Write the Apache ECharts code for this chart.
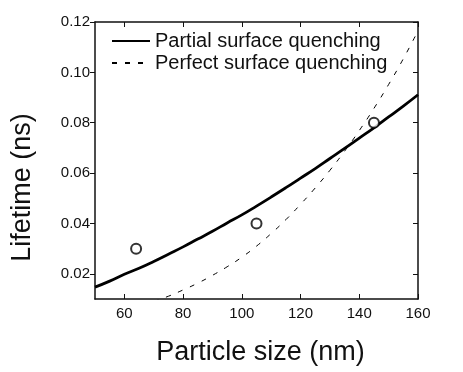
<!DOCTYPE html>
<html>
<head>
<meta charset="utf-8">
<script src="https://cdn.jsdelivr.net/npm/echarts@6/dist/echarts.min.js"></script>
<style>html,body{margin:0;padding:0;background:#fff}#c{width:463px;height:372px}</style>
</head>
<body>
<div id="c"></div>
<script>
// Particle size (nm) grid for the model curves
const sizes = [50,55,60,65,70,75,80,85,90,95,100,105,110,115,120,125,130,135,140,145,150,155,160];
// Partial surface quenching (solid) lifetime, ns
const partial = [0.0147,0.0171,0.0198,0.0222,0.0249,0.0278,0.0307,0.0338,0.0369,0.0402,0.0434,0.0469,0.0505,0.0542,0.0580,0.0618,0.0658,0.0698,0.0739,0.0780,0.0823,0.0866,0.0911];
// Perfect surface quenching (dashed) lifetime, ns
const perfectSizes = [70,75,80,85,90,95,100,105,110,115,120,125,130,135,140,145,150,155,160];
const perfect = [0.0090,0.0111,0.0136,0.0163,0.0194,0.0228,0.0266,0.0310,0.0360,0.0415,0.0476,0.0541,0.0611,0.0687,0.0769,0.0857,0.0952,0.1054,0.1165];
// Measured points
const measSizes = [64,105,145];
const measLife = [0.030,0.040,0.080];
// Tick values
const xTicks = [60,80,100,120,140,160];
const yTicks = [0.02,0.04,0.06,0.08,0.10,0.12];

const font = 'Liberation Sans, Arial, sans-serif';
const axisCol = '#111';
function mkX(show, pos){
  return {
    type:'value', min:50, max:160, position:pos,
    axisLine:{show:true, onZero:false, lineStyle:{color:axisCol,width:1.5}},
    axisTick:{show:true, inside:true, length:5, customValues:xTicks, lineStyle:{color:axisCol,width:1}},
    axisLabel:{show:show, customValues:xTicks, margin:7, fontSize:15, color:'#111', fontFamily:font},
    splitLine:{show:false},
    name: show ? 'Particle size (nm)' : '', nameLocation:'middle', nameGap:40,
    nameTextStyle:{fontSize:27, color:'#111', fontFamily:font, padding:[0,0,0,8]}
  };
}
function mkY(show, pos){
  return {
    type:'value', min:0.01, max:0.12, position:pos,
    axisLine:{show:true, onZero:false, lineStyle:{color:axisCol,width:1.5}},
    axisTick:{show:true, inside:!show, length:5, customValues:yTicks, lineStyle:{color:axisCol,width:1}},
    axisLabel:{show:show, customValues:yTicks, margin:5, fontSize:15, color:'#111', fontFamily:font,
      formatter:v=>v.toFixed(2)},
    splitLine:{show:false},
    name: show ? 'Lifetime (ns)' : '', nameLocation:'middle', nameGap:59,
    nameTextStyle:{fontSize:27, color:'#111', fontFamily:font, padding:[0,54,0,0]}
  };
}
const chart = echarts.init(document.getElementById('c'), null, {renderer:'canvas'});
chart.setOption({
  animation:false,
  backgroundColor:'#fff',
  grid:{left:95, right:45, top:22, bottom:73, containLabel:false},
  legend:{
    show:true, orient:'vertical', left:106, top:26, itemWidth:38, itemHeight:14, itemGap:2,
    data:['Partial surface quenching','Perfect surface quenching'],
    itemStyle:{color:'rgba(0,0,0,0)', borderWidth:0, opacity:0},
    textStyle:{fontSize:20, color:'#111', fontFamily:font}
  },
  xAxis:[mkX(true,'bottom'), mkX(false,'top')],
  yAxis:[mkY(true,'left'), mkY(false,'right')],
  series:[
    {name:'Partial surface quenching', type:'line', xAxisIndex:0, yAxisIndex:0, smooth:true, showSymbol:false, symbol:'none',
      data:sizes.map((x,i)=>[x,partial[i]]), lineStyle:{color:'#000', width:2.8}, itemStyle:{color:'#000'}, clip:true},
    {name:'Perfect surface quenching', type:'line', xAxisIndex:0, yAxisIndex:0, smooth:true, showSymbol:false, symbol:'none',
      data:perfectSizes.map((x,i)=>[x,perfect[i]]), lineStyle:{color:'#000', width:1, type:[5,8]}, itemStyle:{color:'#000'}, clip:true},
    {name:'Measured', type:'scatter', xAxisIndex:0, yAxisIndex:0, symbol:'circle', symbolSize:10,
      data:measSizes.map((x,i)=>[x,measLife[i]]), itemStyle:{color:'#fff', borderColor:'#000', borderWidth:2}, z:5}
  ]
});
</script>
</body>
</html>
